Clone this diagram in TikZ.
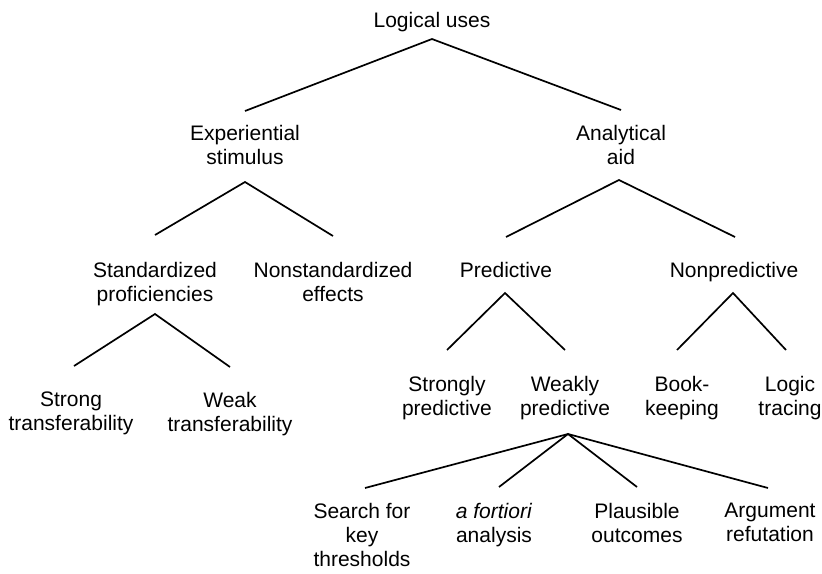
\documentclass[tikz,border=0pt]{standalone}
\usepackage{fontspec}
\setmainfont{Liberation Sans}

\begin{document}
\begin{tikzpicture}[x = 1pt, y = -1pt,
	every node/.style = {font = \fontsize{21}{24}\selectfont, align = center, inner sep = 0pt, anchor = north},
	branch/.style = {line width = 1.7pt}]
		\useasboundingbox (0, 0) rectangle (822, 573);
		%%%%%%%%%%%%%
		\node (uses) at (432, 12) {Logical uses};
		\node (exper) at (245, 125) {Experiential\\stimulus};
		\node (anal) at (621, 125) {Analytical\\aid};
		\node (stand) at (155, 262) {Standardized\\proficiencies};
		\node (nonstand) at (333, 262) {Nonstandardized\\effects};
		\node (pred) at (506, 262) {Predictive};
		\node (nonpred) at (734, 262) {Nonpredictive};
		\node (strongt) at (71, 392) {Strong\\transferability};
		\node (weakt) at (230, 392) {Weak\\transferability};
		\node (strongp) at (447, 376) {Strongly\\predictive};
		\node (weakp) at (565, 376) {Weakly\\predictive};
		\node (book) at (682, 376) {Book-\\keeping};
		\node (logic) at (790, 376) {Logic\\tracing};
		\node (search) at (362, 503) {Search for\\key\\thresholds};
		\node (fort) at (494, 503) {\textit{a fortiori}\\analysis};
		\node (plaus) at (637, 503) {Plausible\\outcomes};
		\node (argu) at (770, 503) {Argument\\refutation};
		%%%%%%%%%%%%%
		\coordinate (uses-f) at (432, 39); \coordinate (exper-f) at (245, 182);
		\coordinate (anal-f) at (619, 180); \coordinate (stand-f) at (155, 314);
		\coordinate (pred-f) at (505, 293); \coordinate (nonpred-f) at (733, 293);
		\coordinate (weakp-f) at (568, 434);
		\coordinate (exper-t) at (245, 111); \coordinate (anal-t) at (621, 110);
		\coordinate (stand-t) at (155, 235); \coordinate (nonstand-t) at (333, 236);
		\coordinate (pred-t) at (506, 237); \coordinate (nonpred-t) at (735, 237);
		\coordinate (strongt-t) at (74, 366); \coordinate (weakt-t) at (230, 367);
		\coordinate (strongp-t) at (447, 350); \coordinate (weakp-t) at (565, 350);
		\coordinate (book-t) at (677, 350); \coordinate (logic-t) at (786, 350);
		\coordinate (search-t) at (365, 488); \coordinate (fort-t) at (499, 487);
		\coordinate (plaus-t) at (637, 487); \coordinate (argu-t) at (768, 488);
		%%%%%%%%%%%%%
		\draw [branch] (exper-t) -- (uses-f) -- (anal-t);
		\draw [branch] (stand-t) -- (exper-f) -- (nonstand-t);
		\draw [branch] (pred-t) -- (anal-f) -- (nonpred-t);
		\draw [branch] (strongt-t) -- (stand-f) -- (weakt-t);
		\draw [branch] (strongp-t) -- (pred-f) -- (weakp-t);
		\draw [branch] (book-t) -- (nonpred-f) -- (logic-t);
		\draw [branch] (search-t) -- (weakp-f) -- (argu-t);
		\draw [branch] (fort-t) -- (weakp-f) -- (plaus-t);
\end{tikzpicture}
\end{document}
